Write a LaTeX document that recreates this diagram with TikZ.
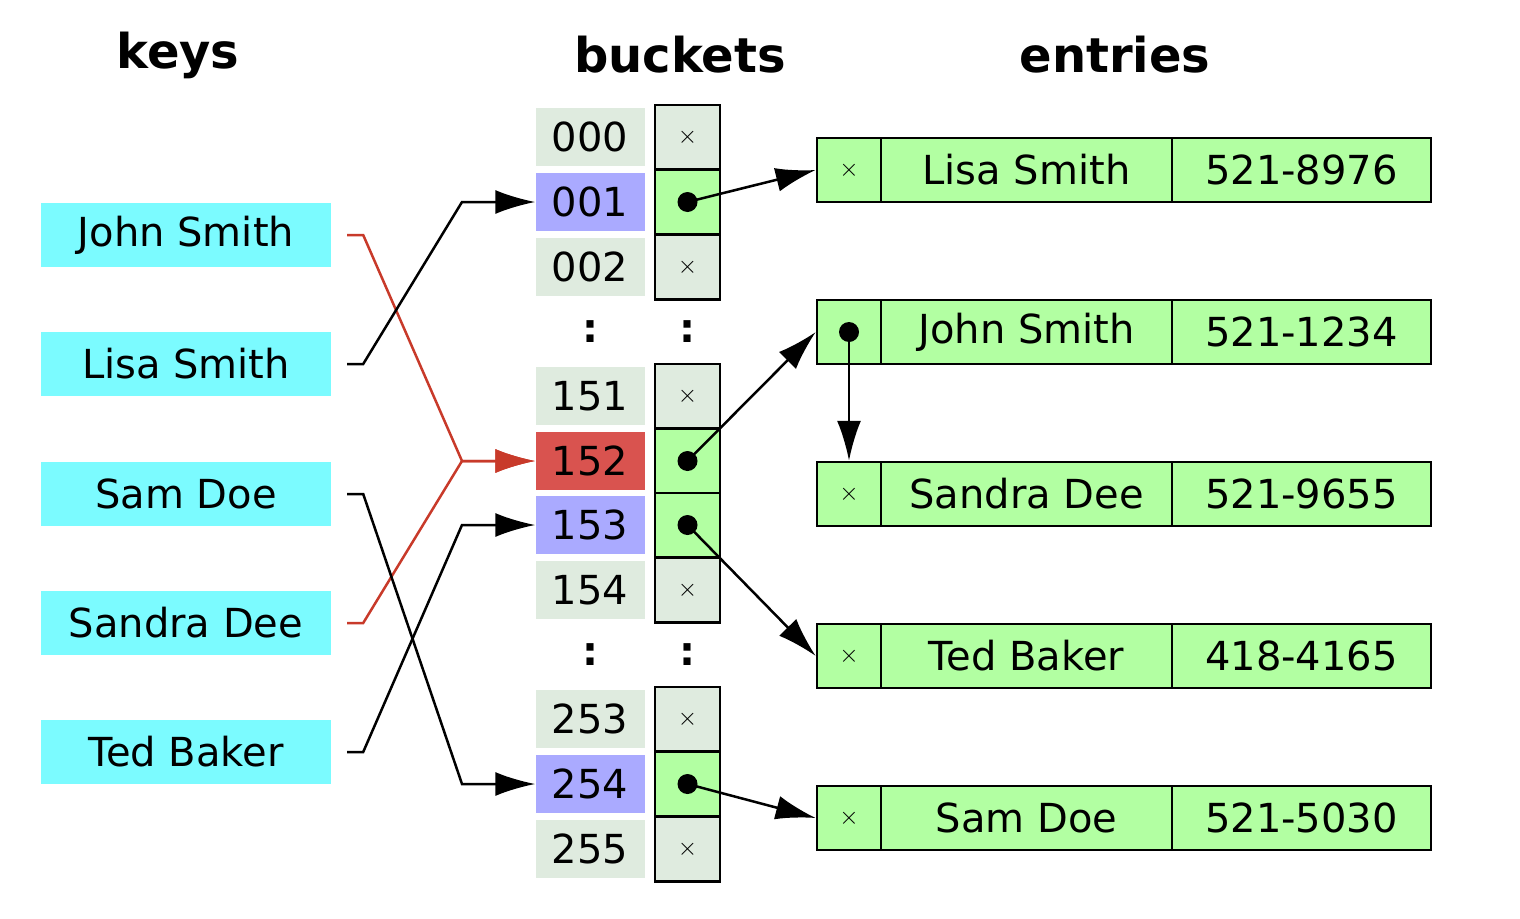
\documentclass[tikz,border=0pt]{standalone}
\usepackage{fontspec}
\setmainfont{DejaVu Sans}
\usetikzlibrary{arrows.meta}
\definecolor{keyc}{HTML}{7BFBFF}
\definecolor{numc}{HTML}{DFEBDF}
\definecolor{bluec}{HTML}{AAAAFF}
\definecolor{redc}{HTML}{D9534F}
\definecolor{greenc}{HTML}{B2FFA2}
\definecolor{arrred}{HTML}{C83A2A}
\begin{document}
\begin{tikzpicture}[x=1pt,y=-1pt,
  txt/.style={font=\fontsize{40}{42}\selectfont},
  title/.style={font=\fontsize{48}{50}\selectfont\bfseries},
  key/.style={txt,fill=keyc,minimum width=290,minimum height=64,inner sep=0},
  num/.style={txt,fill=#1,minimum width=109,minimum height=58,inner sep=0},
  cell/.style={txt,draw,line width=2.5,fill=#1,minimum width=65,minimum height=64.5,inner sep=0},
  ent/.style={txt,draw,line width=2.5,fill=greenc,minimum height=64,inner sep=0},
  arr/.style={line width=2.5,-{Latex[length=40,width=24]}},
  dot/.style={circle,fill=black,inner sep=0,minimum size=20}]
\useasboundingbox (0,0) rectangle (1520,918);
\node[title] (tk) at (178,55) {keys};
\node[title] (tb) at (680,55) {buckets};
\node[title] (te) at (1115,55) {entries};
% keys
\foreach \n/\t/\y in {k1/John Smith/235,k2/Lisa Smith/364,k3/Sam Doe/494,k4/Sandra Dee/623,k5/Ted Baker/752}
  \node[key] (\n) at (186,\y) {\t};
% numbers
\foreach \n/\t/\y/\c in {n000/000/137/numc,n001/001/202/bluec,n002/002/267/numc,n151/151/396/numc,n152/152/461/redc,n153/153/525/bluec,n154/154/590/numc,n253/253/719/numc,n254/254/784/bluec,n255/255/849/numc}
  \node[num=\c] (\n) at (590,\y) {\t};
\foreach \n/\y in {c1/332,c2/655} {\node[txt,font=\fontsize{40}{42}\selectfont\bfseries] (\n a) at (590,\y) {:};
  \node[txt,font=\fontsize{40}{42}\selectfont\bfseries] (\n b) at (687,\y) {:};}
% bucket cells
\foreach \n/\y/\c/\m in {b000/137/numc/x,b001/202/greenc/d,b002/267/numc/x,b151/396/numc/x,b152/461/greenc/d,b153/525/greenc/d,b154/590/numc/x,b253/719/numc/x,b254/784/greenc/d,b255/849/numc/x}
  \node[cell=\c] (\n) at (687.5,\y) {\if\m x$\times$\fi};
\foreach \n in {b001,b152,b153,b254} \node[dot] (\n d) at (\n.center) {};
% entries
\foreach \n/\y/\a/\b/\m in {e1/170/Lisa Smith/521-8976/x,e2/332/John Smith/521-1234/d,e3/494/Sandra Dee/521-9655/x,e4/656/Ted Baker/418-4165/x,e5/818/Sam Doe/521-5030/x}{
  \node[ent,minimum width=64] (\n p) at (849,\y) {\if\m x$\times$\fi};
  \node[ent,minimum width=291] (\n n) at (1026.5,\y) {\a};
  \node[ent,minimum width=259] (\n v) at (1301.5,\y) {\b};}
\node[dot] (e2d) at (e2p.center) {};
% key arrows
\draw[arr,arrred] (k1.east)++(16,0) -- ++(16,0) -- (462,461) -- (n152.west);
\draw[arr,arrred] (k4.east)++(16,0) -- ++(16,0) -- (462,461) -- (n152.west);
\draw[arr] (k2.east)++(16,0) -- ++(16,0) -- (462,202) -- (n001.west);
\draw[arr] (k3.east)++(16,0) -- ++(16,0) -- (462,784) -- (n254.west);
\draw[arr] (k5.east)++(16,0) -- ++(16,0) -- (462,525) -- (n153.west);
% pointers
\draw[arr] (b001d.center) -- (e1p.west);
\draw[arr] (b152d.center) -- (e2p.west);
\draw[arr] (b153d.center) -- (e4p.west);
\draw[arr] (b254d.center) -- (e5p.west);
\draw[arr] (e2d.center) -- (e3p.north);
\end{tikzpicture}
\end{document}
